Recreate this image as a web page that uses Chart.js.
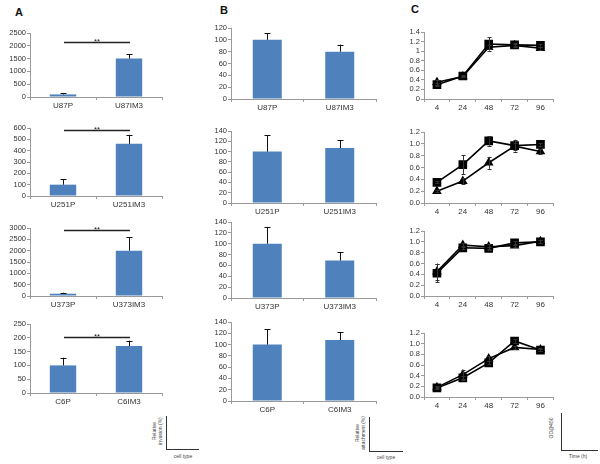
<!DOCTYPE html>
<html><head><meta charset="utf-8">
<script src="https://cdn.jsdelivr.net/npm/chart.js@4.4.1/dist/chart.umd.min.js"></script>
<style>
body{margin:0;background:#fff;width:600px;height:464px;position:relative;overflow:hidden;font-family:'Liberation Sans',Arial,sans-serif;}
canvas{position:absolute;}
.lab{position:absolute;font-weight:bold;font-size:11px;line-height:11px;color:#111;}
.ax{position:absolute;background:#333;}
.t{position:absolute;font-size:5px;line-height:5.5px;color:#444;white-space:nowrap;text-align:center;}
.rot{transform:translate(-50%,-50%) rotate(-90deg);}
.ctr{transform:translate(-50%,-50%);}
</style></head><body>
<div class="lab" style="left:15px;top:7px;">A</div>
<div class="lab" style="left:220px;top:5px;">B</div>
<div class="lab" style="left:411px;top:4px;">C</div>

<!-- small axis keys -->
<div class="ax" style="left:166px;top:416px;width:1px;height:34px;"></div>
<div class="ax" style="left:166px;top:449px;width:33px;height:1px;"></div>
<div class="t rot" style="left:157px;top:431px;">Relative<br>invasion (%)</div>
<div class="t ctr" style="left:183px;top:457px;">cell type</div>

<div class="ax" style="left:369px;top:417px;width:1px;height:35px;"></div>
<div class="ax" style="left:369px;top:451px;width:34px;height:1px;"></div>
<div class="t rot" style="left:360px;top:433px;">Relative<br>attachment (%)</div>
<div class="t ctr" style="left:386px;top:458px;">cell type</div>

<div class="ax" style="left:561px;top:413px;width:1px;height:38px;"></div>
<div class="ax" style="left:561px;top:450px;width:37px;height:1px;"></div>
<div class="t rot" style="left:552px;top:428px;">OD@450</div>
<div class="t ctr" style="left:578px;top:457px;">Time (h)</div>

<script>
// ---------- data ----------
const u87Cells = ['U87P', 'U87IM3'];
const u251Cells = ['U251P', 'U251IM3'];
const u373Cells = ['U373P', 'U373IM3'];
const c6Cells = ['C6P', 'C6IM3'];

const invasionU87 = [100, 1500];
const invasionU87Err = [40, 170];
const invasionU251 = [100, 460];
const invasionU251Err = [50, 80];
const invasionU373 = [100, 2000];
const invasionU373Err = [45, 600];
const invasionC6 = [100, 170];
const invasionC6Err = [28, 20];
const invasionSigLevel = [2150, 582, 2910, 204];
const invasionAxisMax = [2500, 600, 3000, 250];
const invasionAxisStep = [500, 100, 500, 50];

const attachU87 = [100, 80];
const attachU87Err = [11, 12];
const attachU251 = [100, 107];
const attachU251Err = [32, 15];
const attachU373 = [100, 69];
const attachU373Err = [31, 15];
const attachC6 = [100, 108];
const attachC6Err = [27, 14];
const attachAxisMax = [120, 140, 140, 140];

const hours = ['4', '24', '48', '72', '96'];
const odU87Square = [0.30, 0.48, 1.15, 1.13, 1.12];
const odU87SquareErr = [0.03, 0.02, 0.14, 0.03, 0.03];
const odU87Triangle = [0.35, 0.47, 1.08, 1.12, 1.06];
const odU87TriangleErr = [0.05, 0.02, 0.04, 0.03, 0.03];
const odU251Square = [0.35, 0.65, 1.05, 0.97, 0.99];
const odU251SquareErr = [0.02, 0.16, 0.08, 0.10, 0.02];
const odU251Triangle = [0.20, 0.37, 0.68, 0.96, 0.87];
const odU251TriangleErr = [0.02, 0.05, 0.10, 0.06, 0.04];
const odU373Square = [0.42, 0.89, 0.88, 0.98, 1.00];
const odU373SquareErr = [0.17, 0.03, 0.03, 0.03, 0.03];
const odU373Triangle = [0.45, 0.94, 0.91, 0.93, 1.01];
const odU373TriangleErr = [0.15, 0.03, 0.05, 0.03, 0.03];
const odC6Square = [0.17, 0.36, 0.64, 1.05, 0.88];
const odC6SquareErr = [0.02, 0.04, 0.03, 0.03, 0.02];
const odC6Triangle = [0.18, 0.42, 0.72, 0.93, 0.89];
const odC6TriangleErr = [0.02, 0.09, 0.05, 0.03, 0.02];
const odAxisMax = [1.4, 1.2, 1.2, 1.2];

// ---------- styling ----------
const FONT = "'Liberation Sans', Arial, sans-serif";
const BLUE = 'rgb(79,129,189)';
const AXIS = '#9a9a9a';
const TXT = '#333';
const PADL = 34, PADT = 8, PADR = 6, PADB = 16;

const errPlugin = {
  id: 'errbars',
  afterDatasetsDraw(chart) {
    const ctx = chart.ctx, ys = chart.scales.y;
    chart.data.datasets.forEach((ds, di) => {
      if (!ds.errors) return;
      const meta = chart.getDatasetMeta(di);
      meta.data.forEach((el, i) => {
        const v = ds.data[i], e = ds.errors[i];
        if (!e) return;
        const x = Math.round(el.x);
        const yTop = ys.getPixelForValue(v + e);
        const yBot = ds.bothErr ? ys.getPixelForValue(v - e) : ys.getPixelForValue(v);
        const cw = ds.capW || 3;
        ctx.save();
        ctx.strokeStyle = ds.errColor || '#111';
        ctx.lineWidth = 1;
        ctx.beginPath();
        ctx.moveTo(x + 0.5, yTop); ctx.lineTo(x + 0.5, yBot);
        ctx.moveTo(x - cw + 0.5, Math.round(yTop) + 0.5); ctx.lineTo(x + cw + 0.5, Math.round(yTop) + 0.5);
        if (ds.bothErr) { ctx.moveTo(x - cw + 0.5, Math.round(yBot) + 0.5); ctx.lineTo(x + cw + 0.5, Math.round(yBot) + 0.5); }
        ctx.stroke();
        ctx.restore();
      });
    });
  }
};

const sigPlugin = {
  id: 'sig',
  afterDraw(chart, args, opts) {
    if (opts.value == null) return;
    const ctx = chart.ctx, xs = chart.scales.x, ys = chart.scales.y;
    const x0 = xs.getPixelForValue(0) + 1, x1 = xs.getPixelForValue(1) + 1;
    const y = Math.round(ys.getPixelForValue(opts.value)) + 0.5;
    ctx.save();
    ctx.strokeStyle = '#222'; ctx.lineWidth = 1.3;
    ctx.beginPath(); ctx.moveTo(x0, y); ctx.lineTo(x1, y); ctx.stroke();
    ctx.fillStyle = '#222';
    ctx.font = '8px ' + FONT;
    ctx.textAlign = 'center'; ctx.textBaseline = 'alphabetic';
    ctx.fillText('**', (x0 + x1) / 2, y + 1.5);
    ctx.restore();
  }
};

function makeCanvas(box) {
  const c = document.createElement('canvas');
  const w = (box.r - box.l) + PADL + PADR;
  const h = (box.b - box.t) + PADT + PADB;
  c.width = w; c.height = h;
  c.style.width = w + 'px'; c.style.height = h + 'px';
  c.style.left = (box.l - PADL) + 'px';
  c.style.top = (box.t - PADT) + 'px';
  document.body.appendChild(c);
  return c;
}

function axes(yMax, yStep, fmt) {
  return {
    x: {
      offset: true,
      grid: { display: true, drawOnChartArea: false, tickLength: 3, color: AXIS, offset: true },
      border: { color: AXIS },
      ticks: { font: { size: 8, family: FONT }, color: TXT, padding: 1, maxRotation: 0, autoSkip: false },
      afterFit: s => { s.height = PADB; }
    },
    y: {
      min: 0, max: yMax,
      grid: { drawOnChartArea: false, tickLength: 3, color: AXIS },
      border: { color: AXIS },
      ticks: { stepSize: yStep, autoSkip: false, maxTicksLimit: 20, font: { size: 7.5, family: FONT, lineHeight: 1 }, color: TXT, padding: 1, callback: fmt },
      afterFit: s => { s.width = PADL; }
    }
  };
}

function barChart(box, labels, values, errors, yMax, yStep, sigValue) {
  const c = makeCanvas(box);
  new Chart(c, {
    type: 'bar',
    data: { labels, datasets: [{ data: values, errors, capW: 3, backgroundColor: BLUE, barPercentage: 0.4, categoryPercentage: 1 }] },
    options: {
      responsive: false, animation: false, devicePixelRatio: 1,
      layout: { padding: { left: 0, right: PADR, top: PADT, bottom: 0 } },
      plugins: { legend: { display: false }, tooltip: { enabled: false }, sig: { value: sigValue } },
      scales: axes(yMax, yStep, v => String(v))
    },
    plugins: [errPlugin, sigPlugin]
  });
}

function lineChart(box, sq, sqErr, tri, triErr, yMax, fmt) {
  const c = makeCanvas(box);
  const common = { borderColor: '#000', backgroundColor: '#000', borderWidth: 1.6, bothErr: true, capW: 2, errColor: '#333', tension: 0 };
  new Chart(c, {
    type: 'line',
    data: {
      labels: hours,
      datasets: [
        Object.assign({ data: tri, errors: triErr, pointStyle: 'triangle', pointRadius: 4 }, common),
        Object.assign({ data: sq, errors: sqErr, pointStyle: 'rect', pointRadius: 5 }, common)
      ]
    },
    options: {
      responsive: false, animation: false, devicePixelRatio: 1,
      layout: { padding: { left: 0, right: PADR, top: PADT, bottom: 0 } },
      plugins: { legend: { display: false }, tooltip: { enabled: false }, sig: { value: null } },
      scales: axes(yMax, 0.2, fmt)
    },
    plugins: [errPlugin]
  });
}

// Column A: invasion
const colA = { l: 30, r: 162 };
barChart(Object.assign({ t: 33, b: 97 }, colA), u87Cells, invasionU87, invasionU87Err, invasionAxisMax[0], invasionAxisStep[0], invasionSigLevel[0]);
barChart(Object.assign({ t: 128, b: 196 }, colA), u251Cells, invasionU251, invasionU251Err, invasionAxisMax[1], invasionAxisStep[1], invasionSigLevel[1]);
barChart(Object.assign({ t: 228, b: 296 }, colA), u373Cells, invasionU373, invasionU373Err, invasionAxisMax[2], invasionAxisStep[2], invasionSigLevel[2]);
barChart(Object.assign({ t: 324, b: 393 }, colA), c6Cells, invasionC6, invasionC6Err, invasionAxisMax[3], invasionAxisStep[3], invasionSigLevel[3]);

// Column B: attachment
const colB = { l: 231, r: 376 };
barChart(Object.assign({ t: 28, b: 99 }, colB), u87Cells, attachU87, attachU87Err, attachAxisMax[0], 20, null);
barChart(Object.assign({ t: 131, b: 203 }, colB), u251Cells, attachU251, attachU251Err, attachAxisMax[1], 20, null);
barChart(Object.assign({ t: 222, b: 298 }, colB), u373Cells, attachU373, attachU373Err, attachAxisMax[2], 20, null);
barChart(Object.assign({ t: 322, b: 401 }, colB), c6Cells, attachC6, attachC6Err, attachAxisMax[3], 20, null);

// Column C: growth (OD@450)
const colC = { l: 424, r: 554 };
const fmtShort = v => String(Math.round(v * 10) / 10);
const fmtFixed = v => (Math.round(v * 10) / 10).toFixed(1);
lineChart(Object.assign({ t: 32, b: 99 }, colC), odU87Square, odU87SquareErr, odU87Triangle, odU87TriangleErr, odAxisMax[0], fmtShort);
lineChart(Object.assign({ t: 132, b: 203 }, colC), odU251Square, odU251SquareErr, odU251Triangle, odU251TriangleErr, odAxisMax[1], fmtFixed);
lineChart(Object.assign({ t: 231, b: 296 }, colC), odU373Square, odU373SquareErr, odU373Triangle, odU373TriangleErr, odAxisMax[2], fmtFixed);
lineChart(Object.assign({ t: 333, b: 397 }, colC), odC6Square, odC6SquareErr, odC6Triangle, odC6TriangleErr, odAxisMax[3], fmtFixed);
</script>
</body></html>
